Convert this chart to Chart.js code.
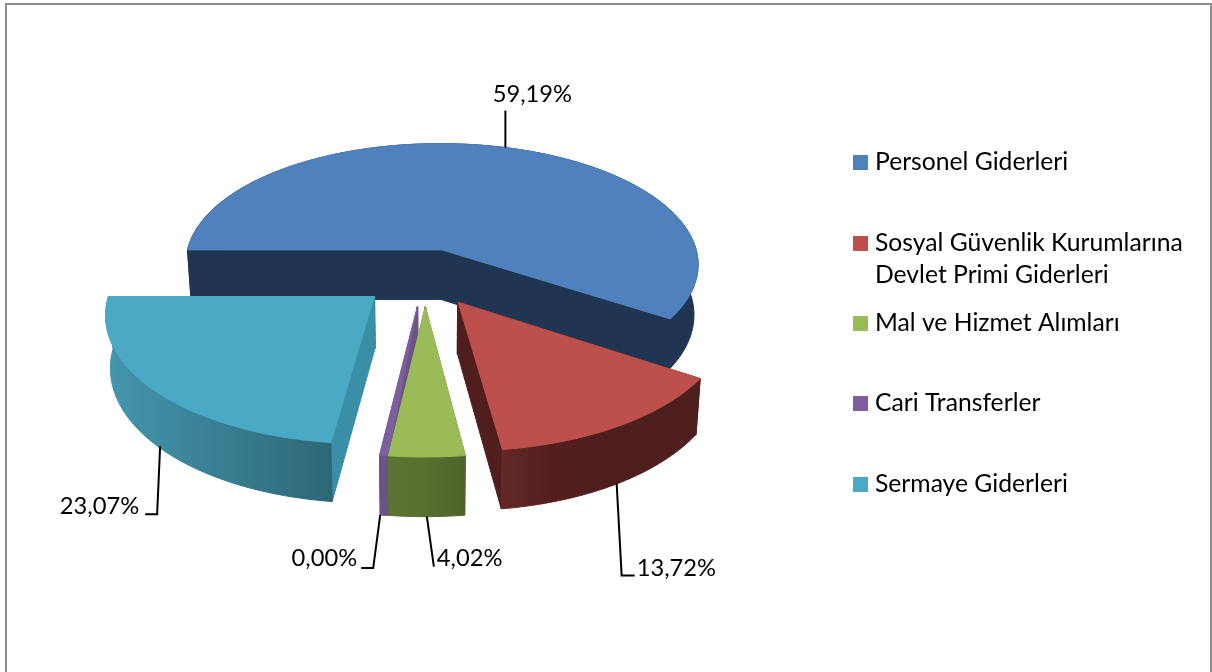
<!DOCTYPE html>
<html>
<head>
<meta charset="utf-8">
<title>Gider dağılımı</title>
<script src="https://cdn.jsdelivr.net/npm/chart.js@4"></script>
<style>
    html, body { margin: 0; padding: 0; background: #fff; overflow: hidden; }
    #wrap { position: relative; width: 1212px; height: 672px; overflow: hidden; }
    #frame { position: absolute; left: 5px; top: 3px; width: 1203px; height: 700px; border: 2px solid #8c8c8c; box-sizing: content-box; }
    canvas { position: absolute; left: 0; top: 0; }
</style>
</head>
<body>
<div id="wrap">
    <div id="frame"></div>
    <canvas id="chart" width="1212" height="672"></canvas>
</div>
<script>
const categories = ['Personel Giderleri', 'Sosyal Güvenlik Kurumlarına Devlet Primi Giderleri', 'Mal ve Hizmet Alımları', 'Cari Transferler', 'Sermaye Giderleri'];
const shares = [59.19, 13.72, 4.02, 0.00, 23.07];
const sliceColors = ['#4f81bd', '#bd4f4c', '#9bbb59', '#7d5f9e', '#4aa9c4'];

// side wall colours for each slice: rim gradient stops, then the cut face
const rimStops = [
    ['#1f3552', '#1f3552', '#1f3552'],
    ['#622826', '#521f1d', '#4f1f1d', '#4f1f1d', '#4f1f1d'],
    ['#5c7331', '#586f2f', '#4f632a'],
    ['#6d5288', '#6d5288', '#6d5288'],
    ['#4496ae', '#397f94', '#2d6777']
];
const faceColors = ['#1f3552', '#501f1d', '#566d2d', '#6d5288', '#3a8ea6'];

// legend text rows, the long name is split in two lines like the original
const legendLines = [['Personel Giderleri'], ['Sosyal Güvenlik Kurumlarına', 'Devlet Primi Giderleri'], ['Mal ve Hizmet Alımları'], ['Cari Transferler'], ['Sermaye Giderleri']];
const legendRows = [162, 243, 323, 403, 484];

// the 3D look: unit disc coordinates go through a small perspective projection
const CX = 425, CY = 277, SCALE_X = 261, SCALE_Y = 124.8, PERSP = 0.118, DEPTH = 51;
const SLIVER = 1.6 * Math.PI / 180; // 0,00% slice still shows up as a thin sliver in the original
const TEAL_NUDGE = -0.017; // the original perspective pushes this slice a bit further left
const LABEL_FONT = '23.7px Lato, "Open Sans", sans-serif';
const LEGEND_FONT = '24.7px Lato, "Open Sans", sans-serif';

function project(u, v, bottom) {
    const w = 1 - PERSP * v;
    if (!bottom) return { x: CX + SCALE_X * u / w, y: CY + SCALE_Y * v / w };
    return { x: CX + 0.985 * SCALE_X * u / w, y: CY + SCALE_Y * v / w + DEPTH / w };
}

// geometry of one slice, read from the arc element of Chart.js
function sliceGeometry(arc, index) {
    const p = arc.getProps(['startAngle', 'endAngle', 'outerRadius']);
    const start = p.endAngle - p.startAngle < SLIVER ? p.startAngle - SLIVER : p.startAngle;
    const mid0 = (p.startAngle + p.endAngle) / 2;
    const e = arc.options.offset / p.outerRadius;
    const u0 = Math.cos(mid0) * e + (index === 4 ? TEAL_NUDGE : 0), v0 = Math.sin(mid0) * e;
    const rim = [];
    const steps = Math.max(4, Math.ceil((p.endAngle - start) * 60));
    for (let i = 0; i <= steps; i++) {
        const a = start + (p.endAngle - start) * i / steps;
        rim.push([u0 + Math.cos(a), v0 + Math.sin(a)]);
    }
    return { u0, v0, rim, mid: [u0 + Math.cos(mid0), v0 + Math.sin(mid0)] };
}

function fillPoly(ctx, pts, fill) {
    ctx.beginPath();
    pts.forEach((pt, i) => i ? ctx.lineTo(pt.x, pt.y) : ctx.moveTo(pt.x, pt.y));
    ctx.closePath();
    ctx.fillStyle = fill;
    ctx.fill();
    // hides the seam between neighbouring polygons
    ctx.strokeStyle = fill;
    ctx.lineWidth = 1;
    ctx.stroke();
}

function drawSlice(ctx, g, i, color) {
    const apexTop = project(g.u0, g.v0, false);
    const apexBottom = project(g.u0, g.v0, true);
    const first = g.rim[0], last = g.rim[g.rim.length - 1];

    // cut faces, the second pass over the shared edge closes the seam at the apex
    fillPoly(ctx, [apexTop, project(first[0], first[1]), project(first[0], first[1], true), apexBottom], faceColors[i]);
    fillPoly(ctx, [apexTop, project(last[0], last[1]), project(last[0], last[1], true), apexBottom], faceColors[i]);
    ctx.lineWidth = 2;
    ctx.beginPath();
    ctx.moveTo(apexTop.x, apexTop.y);
    ctx.lineTo(apexBottom.x, apexBottom.y);
    ctx.stroke();

    // rim wall with its gradient
    const topRim = g.rim.map(r => project(r[0], r[1]));
    const bottomRim = g.rim.map(r => project(r[0], r[1], true));
    const xs = topRim.map(pt => pt.x);
    const grad = ctx.createLinearGradient(Math.min(...xs), 0, Math.max(...xs) + 0.01, 0);
    rimStops[i].forEach((c, n) => grad.addColorStop(n / (rimStops[i].length - 1), c));
    fillPoly(ctx, topRim.concat(bottomRim.reverse()), grad);

    // top face
    fillPoly(ctx, [apexTop].concat(topRim), color);
}

// leader lines and value labels, all relative to the anchor on the slice rim
const leaders = [
    { shift: [0, 0], bottom: false, path: [[0, -37]], text: [27, -53], align: 'center' },
    { shift: [-1, 0], bottom: true, path: [[5, 92], [18, 92]], text: [20, 85], align: 'left' },
    { shift: [0, 0], bottom: true, path: [[7, 50]], text: [10, 42], align: 'left' },
    { shift: [0, 0], bottom: true, path: [[-7, 53], [-19, 53]], text: [-23, 43], align: 'right' },
    { shift: [2.5, 0], bottom: true, path: [[-3, 68], [-15, 68]], text: [-21, 60], align: 'right' }
];

const pie3d = {
    id: 'pie3d',
    beforeDatasetsDraw(chart) {
        const ctx = chart.ctx;
        const arcs = chart.getDatasetMeta(0).data;
        const geos = arcs.map(sliceGeometry);
        const colors = chart.data.datasets[0].backgroundColor;

        ctx.save();
        // back to front
        [0, 4, 1, 3, 2].forEach(i => drawSlice(ctx, geos[i], i, colors[i]));

        // leaders
        ctx.font = LABEL_FONT;
        ctx.textBaseline = 'middle';
        ctx.strokeStyle = '#000';
        ctx.fillStyle = '#000';
        ctx.lineWidth = 2;
        leaders.forEach((l, i) => {
            const a = project(geos[i].mid[0], geos[i].mid[1], l.bottom);
            const ax = a.x + l.shift[0], ay = a.y + l.shift[1];
            ctx.beginPath();
            ctx.moveTo(ax, ay);
            l.path.forEach(p => ctx.lineTo(ax + p[0], ay + p[1]));
            ctx.stroke();
            ctx.textAlign = l.align;
            ctx.fillText(shares[i].toFixed(2).replace('.', ',') + '%', ax + l.text[0], ay + l.text[1]);
        });

        // legend
        ctx.font = LEGEND_FONT;
        ctx.textAlign = 'left';
        legendLines.forEach((lines, i) => {
            ctx.fillStyle = colors[i];
            ctx.fillRect(853, legendRows[i] - 7, 15, 15);
            ctx.fillStyle = '#000';
            lines.forEach((t, n) => ctx.fillText(t, 875, legendRows[i] + n * 32));
        });
        ctx.restore();
        return false; // the flat arcs are replaced by the ones above
    }
};

new Chart(document.getElementById('chart'), {
    type: 'pie',
    data: {
        labels: categories,
        datasets: [{ data: shares, backgroundColor: sliceColors, offset: 70, borderWidth: 0 }]
    },
    options: {
        responsive: false,
        animation: false,
        rotation: -90,
        plugins: { legend: { display: false }, tooltip: { enabled: false } }
    },
    plugins: [pie3d]
});
</script>
</body>
</html>
